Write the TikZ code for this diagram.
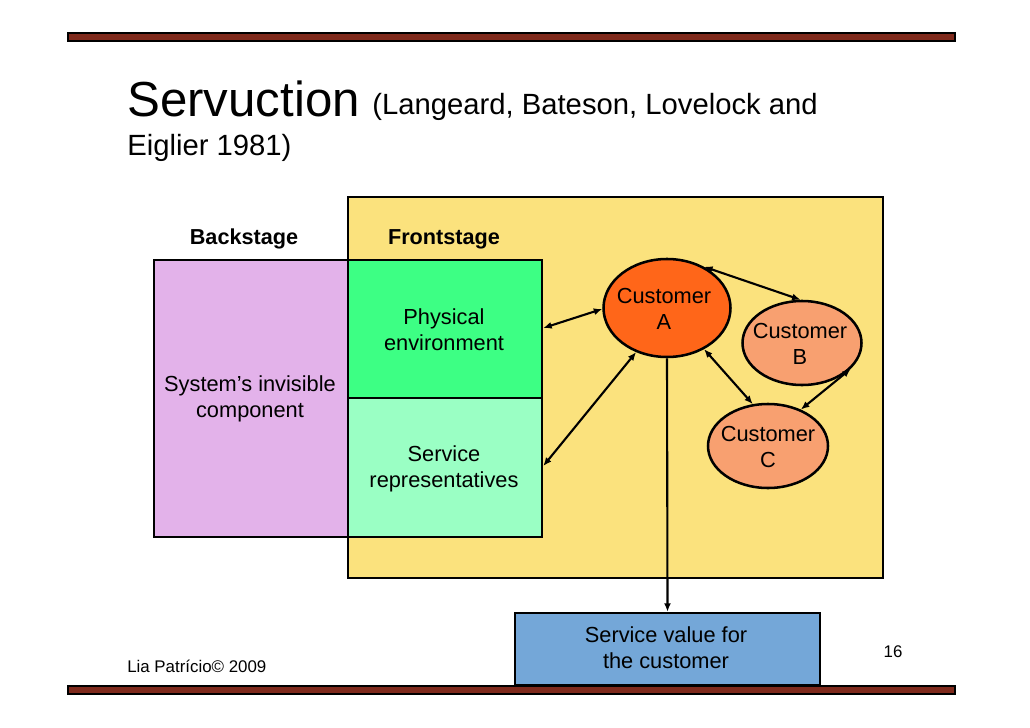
\documentclass[tikz,border=0pt]{standalone}
\usepackage{fontspec}
\setmainfont{Liberation Sans}
\usepackage{tikz}
\usetikzlibrary{positioning,calc,shapes,arrows.meta}

\definecolor{barred}{HTML}{7F2A1C}
\definecolor{stageyellow}{HTML}{FBE27D}
\definecolor{backpurple}{HTML}{E3B2EA}
\definecolor{physgreen}{HTML}{3DFF84}
\definecolor{repgreen}{HTML}{9AFFC4}
\definecolor{custA}{HTML}{FF6619}
\definecolor{custBC}{HTML}{F8A070}
\definecolor{valueblue}{HTML}{74A7D8}

\begin{document}
\begin{tikzpicture}[x=0.025cm, y=-0.025cm,
    every node/.style={font=\fontsize{15.5}{18.5}\selectfont, align=center},
    box/.style={draw, line width=1.8pt, inner sep=0pt},
    cust/.style={ellipse, draw, line width=1.8pt, inner sep=0pt},
    link/.style={{Latex[length=6pt,width=5pt]}-{Latex[length=6pt,width=5pt]}, line width=1.5pt},
    stagelabel/.style={font=\fontsize{15.4}{18}\selectfont\bfseries}]
  \useasboundingbox (0,0) rectangle (1030,728);
  % bars
  \draw[fill=barred, line width=0.8pt] (68,33) rectangle (955,41);
  \draw[fill=barred, line width=0.8pt] (68,686) rectangle (955,694);
  % title
  \node (title) [anchor=base west, inner sep=0pt, font=\fontsize{35}{40}\selectfont] at (127,117) {Servuction};
  \node (authors) [anchor=base west, inner sep=0pt, font=\fontsize{20.8}{24}\selectfont] at (372,115) {(Langeard, Bateson, Lovelock and};
  \node (year) [anchor=base west, inner sep=0pt, font=\fontsize{20.8}{24}\selectfont] at (127,156) {Eiglier 1981)};
  % stages
  \node (front) [box, fill=stageyellow, minimum width=535*0.025cm, minimum height=381*0.025cm] at (615.5,387.5) {};
  \node (back) [box, fill=backpurple, minimum width=194*0.025cm, minimum height=277*0.025cm] at (251,398.5) {};
  \node (phys) [box, fill=physgreen, minimum width=194*0.025cm, minimum height=138*0.025cm] at (445,329) {};
  \node (reps) [box, fill=repgreen, minimum width=194*0.025cm, minimum height=139*0.025cm] at (445,467.5) {};
  \node (backlbl) [stagelabel] at (244,239) {Backstage};
  \node (frontlbl) [stagelabel] at (444,239) {Frontstage};
  \node (invis) at (250,399) {System’s invisible\\component};
  \node (physlbl) at (444,330) {Physical\\environment};
  \node (repslbl) at (444,469) {Service\\representatives};
  % customers
  \node (A) [cust, fill=custA, minimum width=127*0.025cm, minimum height=98*0.025cm] at (667,308) {};
  \node (Alb) at (664,309) {Customer\\A};
  \node (B) [cust, fill=custBC, minimum width=119*0.025cm, minimum height=84*0.025cm] at (802,343) {};
  \node (Blb) at (800,344) {Customer\\B};
  \node (C) [cust, fill=custBC, minimum width=120*0.025cm, minimum height=84*0.025cm] at (768,446) {};
  \node (Clb) at (768,447) {Customer\\C};
  % value
  \node (value) [box, fill=valueblue, minimum width=305*0.025cm, minimum height=72*0.025cm] at (667.5,649) {};
  \node (valuelbl) at (666,648) {Service value for\\the customer};
  % links
  \draw[link] (phys.east |- 0,328) -- (A.west |- 0,309);
  \draw[link] (reps.east |- 0,466) -- (A.-125);
  \draw[link] (A.48) -- (B.92);
  \draw[link] (A.-48) -- (C.110);
  \draw[link] (B.-28) -- (C.48);
  \draw[-{Latex[length=6pt,width=5pt]}, line width=1.5pt] (A.south) -- (value.north);
  % footer
  \node (author) [anchor=base west, inner sep=0pt, font=\fontsize{12}{14}\selectfont] at (127,672) {Lia Patrício© 2009};
  \node (page) [anchor=base, inner sep=0pt, font=\fontsize{12}{14}\selectfont] at (893,657) {16};
\end{tikzpicture}
\end{document}
